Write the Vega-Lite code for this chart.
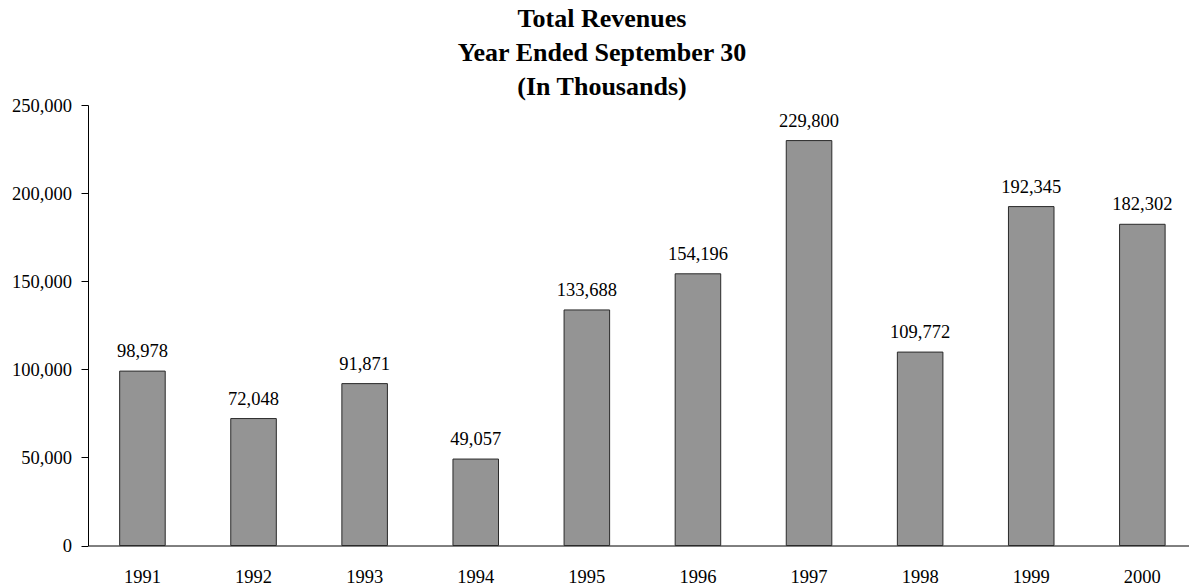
{
  "$schema": "https://vega.github.io/schema/vega-lite/v6.json",
  "autosize": {"type": "none"},
  "width": 1101,
  "height": 440.5,
  "padding": {"left": 88, "top": 105, "right": 0, "bottom": 40.5},
  "background": "white",
  "title": {
    "text": ["Total Revenues", "Year Ended September 30", "(In Thousands)"],
    "font": "Liberation Serif",
    "fontSize": 26,
    "fontWeight": "bold",
    "color": "black",
    "lineHeight": 34,
    "anchor": "middle",
    "dx": -36.5,
    "dy": 7,
    "offset": 3
  },
  "data": {
    "values": [
      {"year": "1991", "revenue": 98978},
      {"year": "1992", "revenue": 72048},
      {"year": "1993", "revenue": 91871},
      {"year": "1994", "revenue": 49057},
      {"year": "1995", "revenue": 133688},
      {"year": "1996", "revenue": 154196},
      {"year": "1997", "revenue": 229800},
      {"year": "1998", "revenue": 109772},
      {"year": "1999", "revenue": 192345},
      {"year": "2000", "revenue": 182302}
    ]
  },
  "encoding": {
    "x": {
      "field": "year",
      "type": "ordinal",
      "scale": {"paddingInner": 0.59, "paddingOuter": 0.25, "align": 0.57},
      "axis": {
        "title": null,
        "labelAngle": 0,
        "ticks": false,
        "labelPadding": 22,
        "labelFont": "Liberation Serif",
        "labelFontSize": 18.5,
        "labelColor": "black",
        "domainColor": "black",
        "domainWidth": 1
      }
    },
    "y": {
      "field": "revenue",
      "type": "quantitative",
      "scale": {"domain": [0, 250000], "nice": false},
      "axis": {
        "title": null,
        "values": [0, 50000, 100000, 150000, 200000, 250000],
        "format": ",d",
        "grid": false,
        "tickSize": 7,
        "tickColor": "black",
        "labelPadding": 9.5,
        "labelFont": "Liberation Serif",
        "labelFontSize": 18.5,
        "labelColor": "black",
        "domainColor": "black",
        "domainWidth": 1
      }
    }
  },
  "layer": [
    {
      "mark": {"type": "bar", "fill": "#949494", "stroke": "#2a2a2a", "strokeWidth": 1}
    },
    {
      "mark": {
        "type": "text",
        "baseline": "alphabetic",
        "dy": -14,
        "font": "Liberation Serif",
        "fontSize": 18.5,
        "color": "black"
      },
      "encoding": {
        "text": {"field": "revenue", "type": "quantitative", "format": ",d"}
      }
    }
  ],
  "config": {"view": {"stroke": null}}
}
